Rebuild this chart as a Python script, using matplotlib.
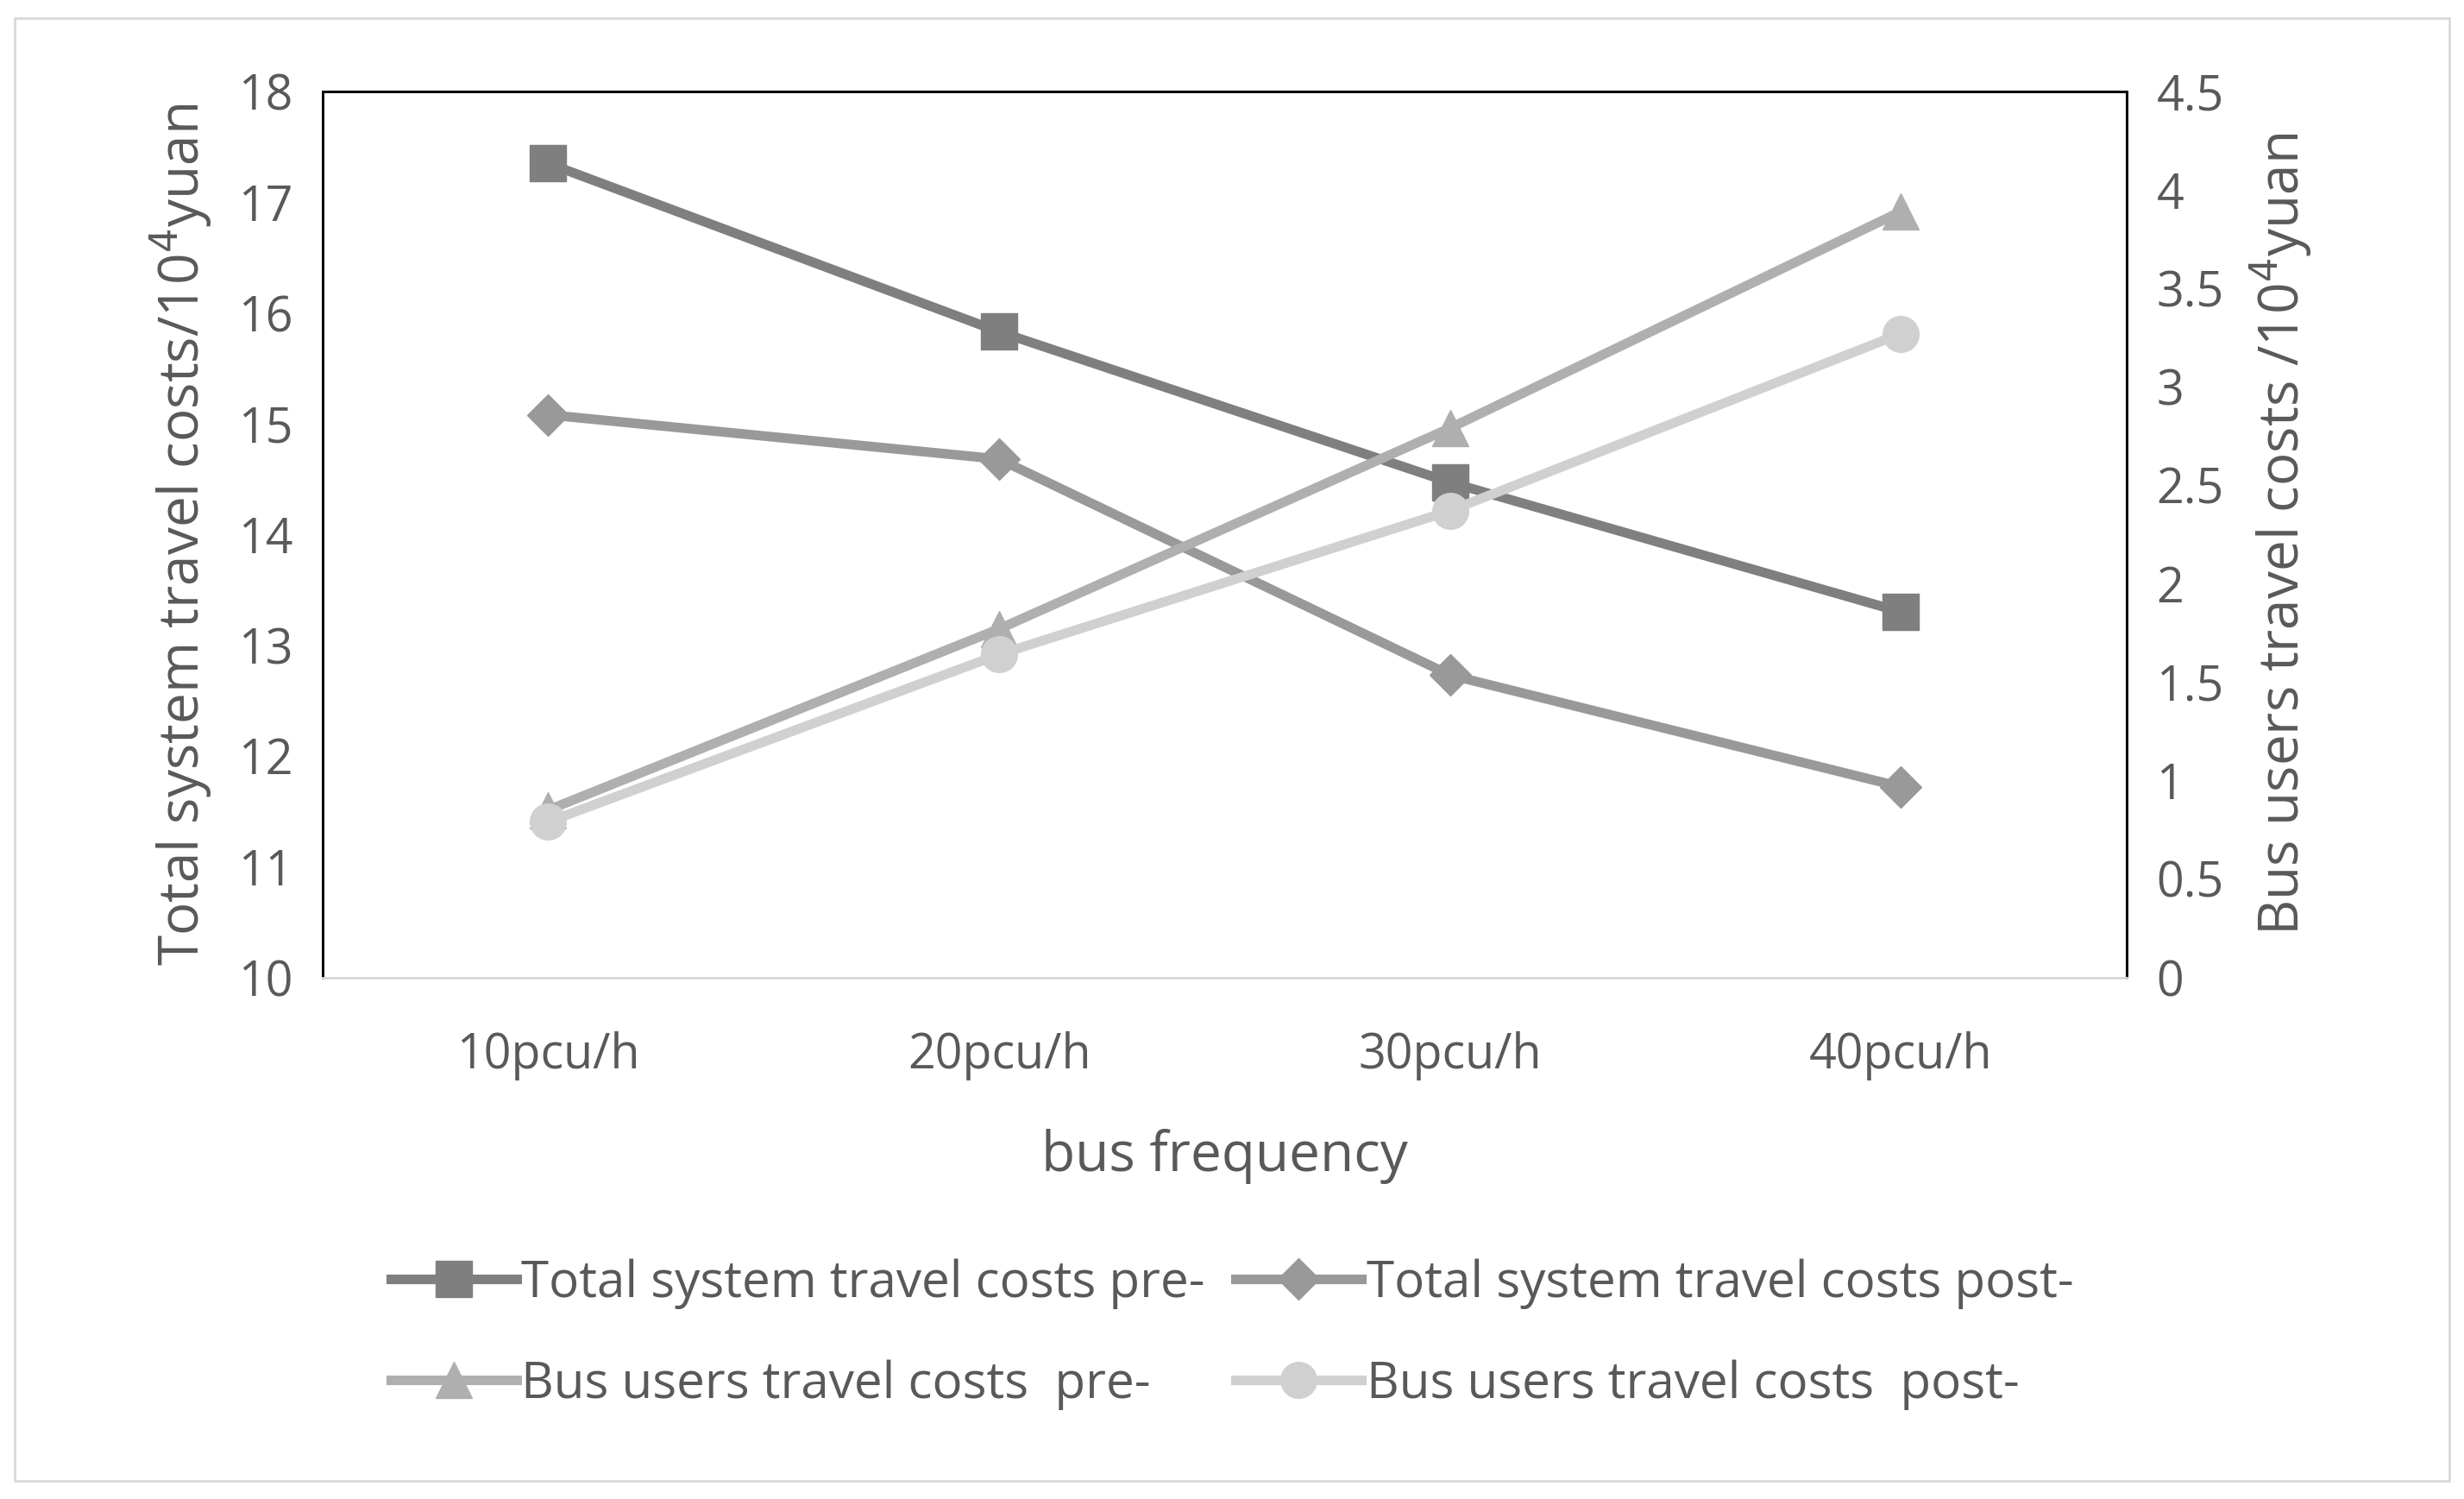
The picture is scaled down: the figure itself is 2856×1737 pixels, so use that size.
import matplotlib
matplotlib.use("Agg")
import matplotlib.pyplot as plt
from matplotlib.patches import Rectangle

categories = ["10pcu/h", "20pcu/h", "30pcu/h", "40pcu/h"]
total_pre = [17.35, 15.83, 14.47, 13.30]
total_post = [15.08, 14.68, 12.73, 11.72]
bus_pre = [0.85, 1.77, 2.79, 3.89]
bus_post = [0.79, 1.64, 2.37, 3.27]

plt.rcParams['font.family'] = ['Open Sans', 'DejaVu Sans']
fig = plt.figure(figsize=(28.56, 17.37), dpi=100)
fig.patches.append(Rectangle((0.006, 0.012), 0.988, 0.976, transform=fig.transFigure,
                             fill=False, edgecolor='#d9d9d9', linewidth=2))
ax = fig.add_axes([0.131, 0.348, 0.732, 0.591])
ax2 = ax.twinx()
x = range(len(categories))
lw = 8; ms = 30
l1, = ax.plot(x, total_pre, color='#7f7f7f', lw=lw, marker='s', ms=ms, label='Total system travel costs pre-')
l2, = ax.plot(x, total_post, color='#999999', lw=lw, marker='D', ms=ms*0.8, label='Total system travel costs post-')
l3, = ax2.plot(x, bus_pre, color='#afafaf', lw=lw, marker='^', ms=ms, label='Bus users travel costs  pre-')
l4, = ax2.plot(x, bus_post, color='#d0d0d0', lw=lw, marker='o', ms=ms, label='Bus users travel costs  post-')
ax.set_xlim(-0.5, 3.5)
ax.set_ylim(10, 18)
ax2.set_ylim(0, 4.5)
ax.set_yticks(range(10, 19))
ax2.set_yticks([0, 0.5, 1, 1.5, 2, 2.5, 3, 3.5, 4, 4.5])
ax2.set_yticklabels(['0', '0.5', '1', '1.5', '2', '2.5', '3', '3.5', '4', '4.5'])
ax.set_xticks(list(x)); ax.set_xticklabels(categories)
fs = 40; tc = '#595959'
for a in (ax, ax2):
    a.tick_params(labelsize=fs, colors=tc, length=0, pad=25)
    for s in ('top', 'left', 'right'):
        a.spines[s].set_color('black'); a.spines[s].set_linewidth(2)
    a.spines['bottom'].set_color('#d9d9d9'); a.spines['bottom'].set_linewidth(2)
ax.tick_params(axis='x', pad=45)
ax.set_xlabel('bus frequency', fontsize=46, color=tc, labelpad=40)
ax.set_ylabel('Total system travel costs/10$^4$yuan', fontsize=46, color=tc, labelpad=20)
ax2.set_ylabel('Bus users travel costs /10$^4$yuan', fontsize=46, color=tc, labelpad=20)
fig.legend(handles=[l1, l3, l2, l4], loc='center', bbox_to_anchor=(0.5, 0.11), ncol=2,
           frameon=False, fontsize=42, labelcolor=tc, handlelength=2.5, handletextpad=0.1,
           columnspacing=0.6, labelspacing=1.0)
fig.savefig('out.png', dpi=100)
